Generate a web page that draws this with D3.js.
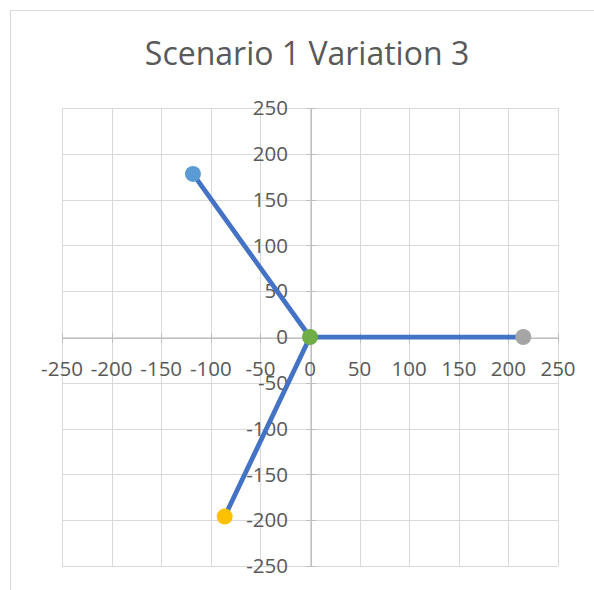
<!DOCTYPE html>
<html>
<head>
<meta charset="utf-8">
<script src="https://cdn.jsdelivr.net/npm/d3@7"></script>
<style>
  html, body { margin: 0; padding: 0; background: #fff; }
  svg { display: block; }
</style>
</head>
<body>
<svg id="chart" width="594" height="590"></svg>
<script>
// ---- data ----
const title = "Scenario 1 Variation 3";
const hub = [0, 0];
const pointNames = ["A", "B", "C"];
const pointX = [-118, 215, -86];
const pointY = [178, 0, -196];
const xTicks = [-250, -200, -150, -100, -50, 0, 50, 100, 150, 200, 250];
const yTicks = [-250, -200, -150, -100, -50, 0, 50, 100, 150, 200, 250];
// styles
const pointColors = ["#5B9BD5", "#A5A5A5", "#FFC000"];
const hubColor = "#70AD47";

(function () {
const svg = d3.select("#chart");
const plotLeft = 62, plotRight = 558, plotTop = 108, plotBottom = 566;

const x = d3.scaleLinear().domain([-250, 250]).range([plotLeft, plotRight]);
const y = d3.scaleLinear().domain([-250, 250]).range([plotBottom, plotTop]);

// chart area border
svg.append("rect")
  .attr("x", 10.5).attr("y", 10.5).attr("width", 620).attr("height", 620)
  .attr("fill", "#fff").attr("stroke", "#d9d9d9").attr("stroke-width", 1);

// title
svg.append("text")
  .attr("x", 307).attr("y", 65)
  .attr("text-anchor", "middle")
  .attr("font-family", "'Open Sans', sans-serif")
  .attr("font-size", 32)
  .attr("fill", "#595959")
  .text(title);

// gridlines
const grid = svg.append("g").attr("stroke", "#d9d9d9").attr("stroke-width", 1).attr("shape-rendering", "crispEdges");
grid.selectAll("line.v").data(xTicks).join("line").attr("class", "v")
  .attr("x1", d => Math.round(x(d)) + 0.5).attr("x2", d => Math.round(x(d)) + 0.5)
  .attr("y1", plotTop).attr("y2", plotBottom);
grid.selectAll("line.h").data(yTicks).join("line").attr("class", "h")
  .attr("y1", d => Math.round(y(d)) + 0.5).attr("y2", d => Math.round(y(d)) + 0.5)
  .attr("x1", plotLeft).attr("x2", plotRight);

// axes through origin
const xAxis = d3.axisBottom(x).tickValues(xTicks).tickSizeInner(5).tickSizeOuter(0).tickFormat(() => "");
const yAxis = d3.axisLeft(y).tickValues(yTicks).tickSizeInner(5).tickSizeOuter(0).tickFormat(() => "");
const gx = svg.append("g").attr("transform", `translate(0,${Math.round(y(0)) + 0.5})`).call(xAxis);
const gy = svg.append("g").attr("transform", `translate(${Math.round(x(0)) + 0.5},0)`).call(yAxis);
[gx, gy].forEach(g => {
  g.selectAll("path, line").attr("stroke", "#bfbfbf").attr("shape-rendering", "crispEdges");
});
gx.selectAll(".tick line").attr("y1", -5).attr("y2", 5);
gy.selectAll(".tick line").attr("x1", -5).attr("x2", 5);

// tick labels
const labelFont = "'Open Sans', sans-serif";
svg.append("g").selectAll("text").data(xTicks).join("text")
  .attr("x", d => x(d)).attr("y", 376)
  .attr("text-anchor", "middle")
  .attr("font-family", labelFont).attr("font-size", 20.5).attr("fill", "#595959")
  .text(d => d);
svg.append("g").selectAll("text").data(yTicks).join("text")
  .attr("x", 288).attr("y", d => y(d))
  .attr("dy", "0.35em")
  .attr("text-anchor", "end")
  .attr("font-family", labelFont).attr("font-size", 20.5).attr("fill", "#595959")
  .text(d => d);

// spokes
const pts = pointNames.map((n, i) => ({ name: n, x: pointX[i], y: pointY[i], color: pointColors[i] }));
const line = d3.line().x(d => x(d[0])).y(d => y(d[1]));
svg.append("g").selectAll("path").data(pts).join("path")
  .attr("d", d => line([[d.x, d.y], hub]))
  .attr("fill", "none").attr("stroke", "#4472C4").attr("stroke-width", 4.75).attr("stroke-linecap", "round");

// markers
svg.append("g").selectAll("circle").data(pts).join("circle")
  .attr("cx", d => x(d.x)).attr("cy", d => y(d.y)).attr("r", 8)
  .attr("fill", d => d.color);
svg.append("circle")
  .attr("cx", x(hub[0])).attr("cy", y(hub[1])).attr("r", 8)
  .attr("fill", hubColor);
})();
</script>
</body>
</html>
